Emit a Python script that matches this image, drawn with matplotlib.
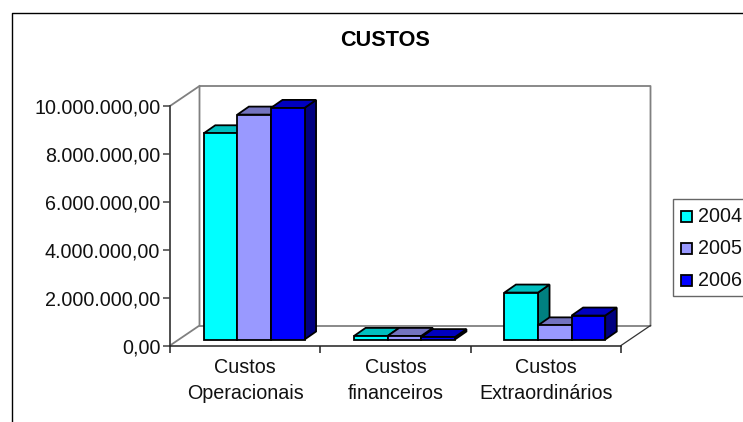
import matplotlib
matplotlib.use("Agg")
import matplotlib.pyplot as plt
from matplotlib.patches import Polygon, Rectangle

W, H = 743, 422

categories = ["Custos\nOperacionais", "Custos\nfinanceiros", "Custos\nExtraordinários"]
years = ["2004", "2005", "2006"]
custos_2004 = [8610000, 150000, 1960000]
custos_2005 = [9390000, 150000, 590000]
custos_2006 = [9670000, 100000, 1000000]
y_ticks = [0, 2000000, 4000000, 6000000, 8000000, 10000000]
y_labels = ["0,00", "2.000.000,00", "4.000.000,00", "6.000.000,00", "8.000.000,00", "10.000.000,00"]

series = [custos_2004, custos_2005, custos_2006]
# frente, topo, lado
cores = [("#00FFFF", "#00BFBF", "#008080"),
         ("#9999FF", "#7373BF", "#4C4C80"),
         ("#0000FF", "#0000BF", "#000080")]

plt.rcParams["font.family"] = ["Liberation Sans", "DejaVu Sans"]

fig = plt.figure(figsize=(W / 100, H / 100), dpi=100, facecolor="white")

# area em pixels -> eixo principal (frente do grafico)
x0, x1, y_top, y_bot = 170, 621, 106, 345.5
ax = fig.add_axes([x0 / W, 1 - y_bot / H, (x1 - x0) / W, (y_bot - y_top) / H])
ax.set_xlim(0, 3)
ax.set_ylim(0, 10000000)
ax.patch.set_visible(False)

ux = (x1 - x0) / 3            # pixels por categoria
uy = (y_bot - y_top) / 1e7    # pixels por unidade


def px(dx, dy):
    return dx / ux, dy / uy


# parede do fundo e chao
wx, wy = px(29.5, 20)
wall = "#808080"
ax.plot([0, wx, wx, 3 + wx, 3 + wx], [0, wy, 1e7 + wy, 1e7 + wy, wy],
        color=wall, lw=1.3, clip_on=False, zorder=1)
ax.plot([0, wx], [1e7, 1e7 + wy], color=wall, lw=1.3, clip_on=False, zorder=1)
ax.plot([wx, 3 + wx], [wy, wy], color=wall, lw=1.3, clip_on=False, zorder=1)
ax.plot([3, 3 + wx], [0, wy], color="#333333", lw=0.9, clip_on=False, zorder=1)

# barras 3d
bar_w = 33.6 / ux
shift_x, base = px(9, 6)
depth_x, depth_y = px(11.5, 8)
for i, vals in enumerate(series):
    front, top, side = cores[i]
    for c, v in enumerate(vals):
        left = c + 0.5 + shift_x + (i - 1.5) * bar_w
        right = left + bar_w
        y1 = base + v
        ax.add_patch(Polygon([(right, base), (right + depth_x, base + depth_y),
                              (right + depth_x, y1 + depth_y), (right, y1)],
                             fc=side, ec="black", lw=1.3, clip_on=False, zorder=3 + i * 2))
        ax.add_patch(Polygon([(left, y1), (left + depth_x, y1 + depth_y),
                              (right + depth_x, y1 + depth_y), (right, y1)],
                             fc=top, ec="black", lw=1.3, clip_on=False, zorder=3 + i * 2))
        ax.bar(left, v, bar_w, bottom=base, align="edge", color=front,
               edgecolor="black", lw=1.3, clip_on=False, zorder=4 + i * 2)

for s in ["top", "right"]:
    ax.spines[s].set_visible(False)
ax.spines["left"].set_color("#404040")
ax.spines["left"].set_linewidth(1.3)
ax.spines["bottom"].set_color("#202020")
ax.spines["bottom"].set_linewidth(1.1)

ax.set_yticks(y_ticks)
ax.set_yticklabels(y_labels, fontsize=14.2, color="#111111")
ax.tick_params(axis="y", length=5, width=1.1, color="#404040", pad=2)
ax.set_xticks([0, 1, 2, 3])
ax.set_xticklabels([])
ax.tick_params(axis="x", length=5, width=1.1, color="#202020")
for c, nome in enumerate(categories):
    fig.text((x0 + ux * (c + 0.5)) / W, 1 - 358 / H, nome, ha="center", va="top",
             fontsize=14.2, color="#111111", linespacing=1.48, multialignment="center")

fig.text(385 / W, 1 - 40 / H, "CUSTOS", ha="center", va="center",
         fontsize=15.6, fontweight="bold", color="black")

# moldura externa
fig.add_artist(plt.Line2D([11.5 / W, 11.5 / W, 1], [0, 1 - 12.7 / H, 1 - 12.7 / H],
                          color="black", lw=1.0, transform=fig.transFigure))

# legenda manual
fig.add_artist(Rectangle((673 / W, 1 - 296 / H), 80 / W, 97 / H, fc="white", ec="#666666",
                         lw=1.0, transform=fig.transFigure, clip_on=True, zorder=2))
for i, ano in enumerate(years):
    yc = 216.3 + 32 * i
    fig.add_artist(Rectangle((680.7 / W, 1 - (yc + 5.5) / H), 11 / W, 11 / H,
                             fc=cores[i][0], ec="black", lw=1.3,
                             transform=fig.transFigure, zorder=3))
    fig.text(698 / W, 1 - yc / H, ano, ha="left", va="center", fontsize=14.2,
             color="#111111", zorder=4)

fig.savefig("out.png", dpi=100, facecolor="white")
